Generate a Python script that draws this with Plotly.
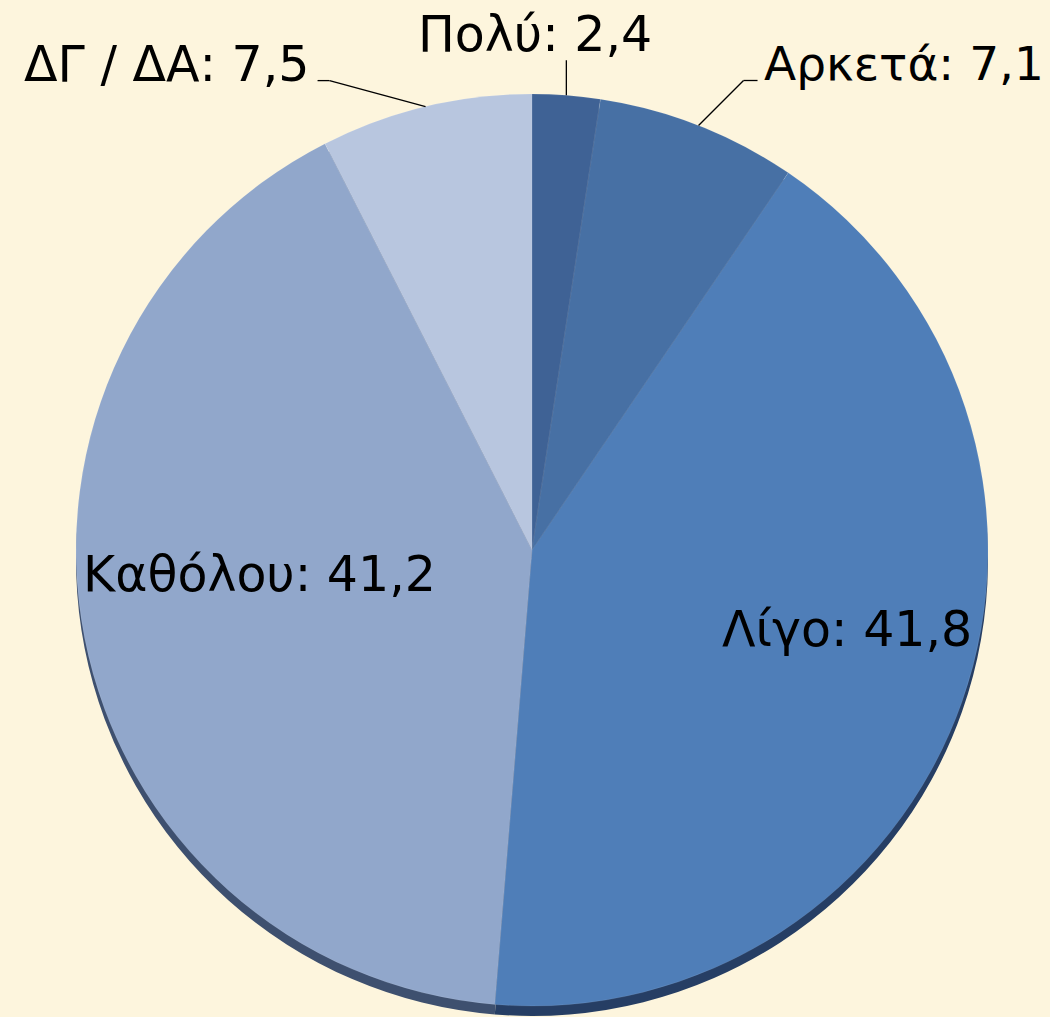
import math
import plotly.graph_objects as go

# ---- data ----
categories = ["Πολύ", "Αρκετά", "Λίγο", "Καθόλου", "ΔΓ / ΔΑ"]
values = [2.4, 7.1, 41.8, 41.2, 7.5]

# ---- style / layout constants ----
colors = ["#3F6295", "#4770A4", "#4F7EB8", "#91A7CB", "#B8C6DF"]
edge_colors = ["#22375A", "#243A5E", "#263E64", "#3E506F", "#56647E"]
BG = "#FDF5DD"
W, H = 1050, 1017
CX, CY, R = 532, 550, 456
DEPTH = 10
FONT_FAMILY = "DejaVu Sans, Verdana, sans-serif"

def fmt(v):
    return f"{v:.1f}".replace(".", ",")

def px2paper(x, y):
    return x / W, 1 - y / H

fig = go.Figure()

# 3D edge (darker copy, shifted down)
fig.add_trace(go.Pie(
    labels=categories, values=values, sort=False, direction="clockwise",
    marker=dict(colors=edge_colors, line=dict(width=0)),
    textinfo="none", hoverinfo="skip", showlegend=False,
    domain=dict(x=[(CX - R) / W, (CX + R) / W],
                y=[1 - (CY + R + DEPTH) / H, 1 - (CY - R + DEPTH) / H]),
))
# main pie face
fig.add_trace(go.Pie(
    labels=categories, values=values, sort=False, direction="clockwise",
    marker=dict(colors=colors, line=dict(width=0.6, color="rgba(255,255,255,0.15)")),
    textinfo="none", showlegend=False,
    domain=dict(x=[(CX - R) / W, (CX + R) / W],
                y=[1 - (CY + R) / H, 1 - (CY - R) / H]),
))

total = sum(values)
cum = 0.0
mids = []
for v in values:
    mids.append((cum + v / 2) / total)
    cum += v

def edge_point(frac):
    t = 2 * math.pi * frac
    return CX + R * math.sin(t), CY - R * math.cos(t)

# label placement per category (layout only, pixel offsets)
outside = {
    "Πολύ": dict(elbow=(0, -35), stub=0, text_off=(-31, -26), xanchor="center", size=49),
    "Αρκετά": dict(elbow=(45, -45), stub=14, text_off=(4, -17), xanchor="left", size=47),
    "ΔΓ / ΔΑ": dict(elbow=(-96, -26), stub=-12, text_off=(-6, -16), xanchor="right", size=49),
}
inside = {
    "Λίγο": (847, 629),
    "Καθόλου": (259, 574),
}

shapes = []
annotations = []
for cat, v, m in zip(categories, values, mids):
    text = f"{cat}: {fmt(v)}"
    if cat in outside:
        o = outside[cat]
        ex, ey = edge_point(m)
        bx, by = ex + o["elbow"][0], ey + o["elbow"][1]
        sx, sy = bx + o["stub"], by
        for (x0, y0, x1, y1) in [(ex, ey, bx, by), (bx, by, sx, sy)]:
            if (x0, y0) == (x1, y1):
                continue
            p0 = px2paper(x0, y0)
            p1 = px2paper(x1, y1)
            shapes.append(dict(type="line", xref="paper", yref="paper",
                               x0=p0[0], y0=p0[1], x1=p1[0], y1=p1[1],
                               line=dict(color="black", width=1.3)))
        tx, ty = px2paper(sx + o["text_off"][0], sy + o["text_off"][1])
        annotations.append(dict(text=text, x=tx, y=ty, xref="paper", yref="paper",
                                xanchor=o["xanchor"], yanchor="middle",
                                showarrow=False,
                                font=dict(family=FONT_FAMILY, size=o["size"], color="black")))
    else:
        tx, ty = px2paper(*inside[cat])
        annotations.append(dict(text=text, x=tx, y=ty, xref="paper", yref="paper",
                                xanchor="center", yanchor="middle",
                                showarrow=False,
                                font=dict(family=FONT_FAMILY, size=49, color="black")))

fig.update_layout(
    width=W, height=H,
    margin=dict(l=0, r=0, t=0, b=0),
    paper_bgcolor=BG, plot_bgcolor=BG,
    shapes=shapes, annotations=annotations,
    showlegend=False,
)

fig.write_html("out.html", config={"displayModeBar": False},
               post_script="document.body.style.margin='0';")
